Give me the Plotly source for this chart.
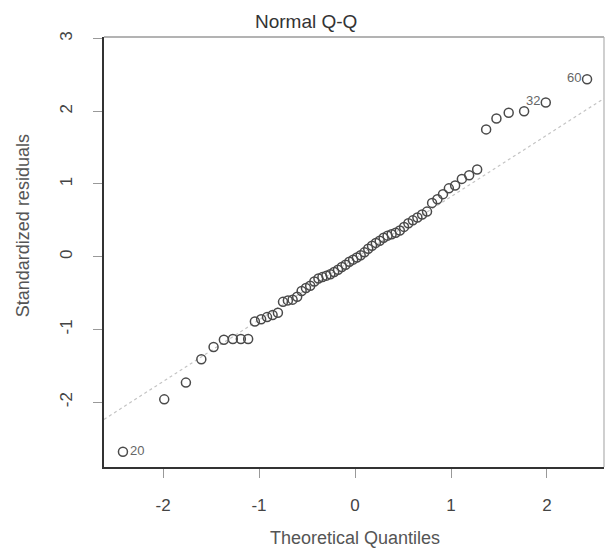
import plotly.graph_objects as go
from statistics import NormalDist
import numpy as np

# Sorted standardized residuals, n = 64
residuals = [
    -2.68, -1.96, -1.73, -1.41, -1.24, -1.14, -1.13, -1.13, -1.13, -0.89,
    -0.86, -0.83, -0.80, -0.77, -0.62, -0.60, -0.59, -0.55, -0.47, -0.43,
    -0.40, -0.34, -0.30, -0.28, -0.26, -0.24, -0.21, -0.18, -0.14, -0.11,
    -0.07, -0.04, -0.01, 0.02, 0.06, 0.11, 0.15, 0.19, 0.22, 0.26,
    0.29, 0.31, 0.33, 0.36, 0.41, 0.46, 0.50, 0.54, 0.58, 0.62,
    0.74, 0.79, 0.86, 0.94, 0.98, 1.07, 1.12, 1.20, 1.75, 1.90,
    1.98, 2.00, 2.12, 2.44,
]
# labelled observations: (rank position in sorted list, label, side)
point_labels = [(0, "20", "right"), (62, "32", "left"), (63, "60", "left")]

x_ticks = [-2, -1, 0, 1, 2]
x_tick_text = ["-2", "-1", "0", "1", "2"]
y_ticks = [-2, -1, 0, 1, 2, 3]
y_tick_text = ["-2", "-1", "0", "1", "2", "3"]
x_range = [-2.615, 2.594]
y_range = [-2.89, 3.02]

n = len(residuals)
nd = NormalDist()
theo = [nd.inv_cdf((i + 0.5) / n) for i in range(n)]

# qqline through the 1st and 3rd quartiles (as in R)
y25, y75 = np.quantile(residuals, [0.25, 0.75])
x25, x75 = nd.inv_cdf(0.25), nd.inv_cdf(0.75)
slope = (y75 - y25) / (x75 - x25)
intercept = y25 - slope * x25

FONT = "Liberation Sans, Arial, sans-serif"

fig = go.Figure()
fig.add_trace(go.Scatter(
    x=x_range, y=[intercept + slope * v for v in x_range],
    mode="lines", line=dict(color="#c4c4c4", width=1.2, dash="dot"),
    hoverinfo="skip", showlegend=False,
))
fig.add_trace(go.Scatter(
    x=theo, y=residuals, mode="markers",
    marker=dict(symbol="circle-open", size=9, color="#4a4a4a",
                line=dict(width=1.5, color="#4a4a4a")),
    showlegend=False,
))

for idx, lab, side in point_labels:
    fig.add_annotation(
        x=theo[idx], y=residuals[idx], xref="x", yref="y", text=lab,
        showarrow=False, xanchor="left" if side == "right" else "right",
        xshift=5 if side == "right" else -4, yshift=1 if side == "right" else 2,
        font=dict(family=FONT, size=13, color="#666666"),
    )

fig.add_annotation(text="Normal Q-Q", xref="paper", yref="paper",
                   x=0.404, y=1.035, showarrow=False, xanchor="center", yanchor="middle",
                   font=dict(family=FONT, size=19, color="#333333"))
fig.add_annotation(text="Theoretical Quantiles", xref="paper", yref="paper",
                   x=0.501, y=-0.165, showarrow=False, xanchor="center", yanchor="middle",
                   font=dict(family=FONT, size=18, color="#555555"))
fig.add_annotation(text="Standardized residuals", xref="paper", yref="paper",
                   x=-0.162, y=0.56, showarrow=False, xanchor="center", yanchor="middle",
                   textangle=-90, font=dict(family=FONT, size=18, color="#555555"))

# lighter top / right frame edges (scan look)
fig.add_shape(type="line", xref="paper", yref="paper", x0=0, x1=1, y0=1, y1=1,
              line=dict(color="#9a9a9a", width=1.5))
fig.add_shape(type="line", xref="paper", yref="paper", x0=1, x1=1, y0=0, y1=1,
              line=dict(color="#b0b0b0", width=1.2))

fig.update_layout(
    width=606, height=560,
    margin=dict(l=104, r=2, t=37, b=93),
    paper_bgcolor="white", plot_bgcolor="white",
    font=dict(family=FONT, color="#444444"),
    xaxis=dict(range=x_range, tickvals=x_ticks, ticktext=x_tick_text, ticks="outside",
               ticklen=9, tickcolor="#999999", tickwidth=1.2, showgrid=False,
               zeroline=False, showline=True, linecolor="#333333", linewidth=1.5,
               ticklabelstandoff=13, tickfont=dict(size=17, color="#444444")),
    yaxis=dict(range=y_range, tickvals=y_ticks, ticktext=y_tick_text, ticks="outside",
               ticklen=9, tickcolor="#999999", tickwidth=1.2, showgrid=False,
               zeroline=False, showline=True, linecolor="#333333", linewidth=1.5,
               tickangle=-90, ticklabelstandoff=14,
               tickfont=dict(size=17, color="#444444")),
)

fig.write_html("out.html")
